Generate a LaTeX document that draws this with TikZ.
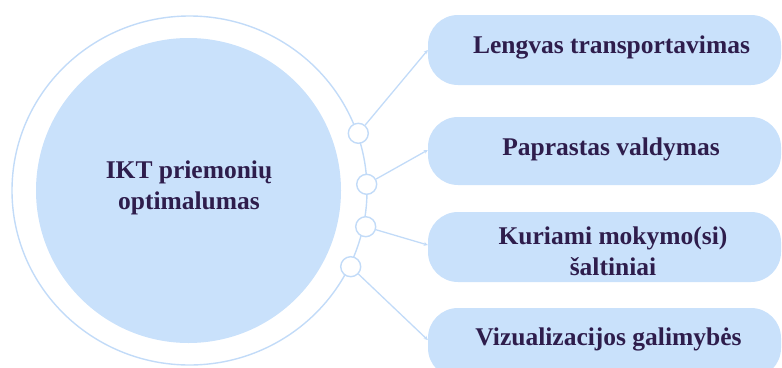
\documentclass[tikz,border=0pt]{standalone}
\usepackage{fontspec}
\setmainfont{Liberation Serif}
\usetikzlibrary{arrows.meta}
\definecolor{paleblue}{HTML}{C9E1FB}
\definecolor{ringblue}{HTML}{C2DBF8}
\definecolor{inkpurple}{HTML}{2E1D4C}
\tikzset{
  ring/.style={draw=ringblue, line width=1.4pt},
  hub/.style={circle, fill=paleblue, draw=none, minimum size=305pt, inner sep=0pt},
  knot/.style={circle, draw=ringblue, fill=white, line width=1.4pt, minimum size=20pt, inner sep=0pt},
  pill/.style={rectangle, rounded corners=30pt, fill=paleblue, draw=none,
               minimum width=353pt, inner sep=0pt},
  conn/.style={draw=ringblue, line width=1.3pt, -{Stealth[length=4pt,width=4pt]}},
  label/.style={anchor=base, text=inkpurple, inner sep=0pt,
                font=\bfseries\fontsize{25.5}{31}\selectfont}
}
\begin{document}
\begin{tikzpicture}[x=1pt, y=-1pt]
  \useasboundingbox (0,0) rectangle (782,367);
  \begin{scope}
    \clip (0,0) rectangle (782,367);

    % outer ring and central disc
    \draw[ring] (189.5,190.5) ellipse [x radius=177.5pt, y radius=174.5pt];
    \node[hub] (hub) at (188.5,190.5) {};
    % base anchor of a two-line node sits on its last line
    \node[label, align=center] (hubtext) at (189,209.3)
      {IKT priemonių\\optimalumas};

    % rounded boxes on the right
    \node[pill, minimum height=70pt] (b1) at (604.5,50) {};
    \node[pill, minimum height=68pt] (b2) at (604.5,151) {};
    \node[pill, minimum height=70pt] (b3) at (604.5,247) {};
    \node[pill, minimum height=70pt] (b4) at (604.5,343) {};

    \node[label] (t1) at (611.5,53.3) {Lengvas transportavimas};
    \node[label] (t2) at (611,155) {Paprastas valdymas};
    \node[label, align=center] (t3) at (613,275.7) {Kuriami mokymo(si)\\šaltiniai};
    \node[label] (t4) at (608.5,345) {Vizualizacijos galimybės};

    % small knots sitting on the ring
    \node[knot] (c1) at (358.3,133.3) {};
    \node[knot] (c2) at (366.7,184.3) {};
    \node[knot] (c3) at (365.7,226.7) {};
    \node[knot] (c4) at (350.7,266.7) {};

    % connectors from knots to boxes
    \draw[conn] (c1) -- (b1.west);
    \draw[conn] (c2) -- ([yshift=1pt]b2.west);
    \draw[conn] (c3) -- ([yshift=2pt]b3.west);
    \draw[conn] (c4) -- ([yshift=3pt]b4.west);
  \end{scope}
\end{tikzpicture}
\end{document}
